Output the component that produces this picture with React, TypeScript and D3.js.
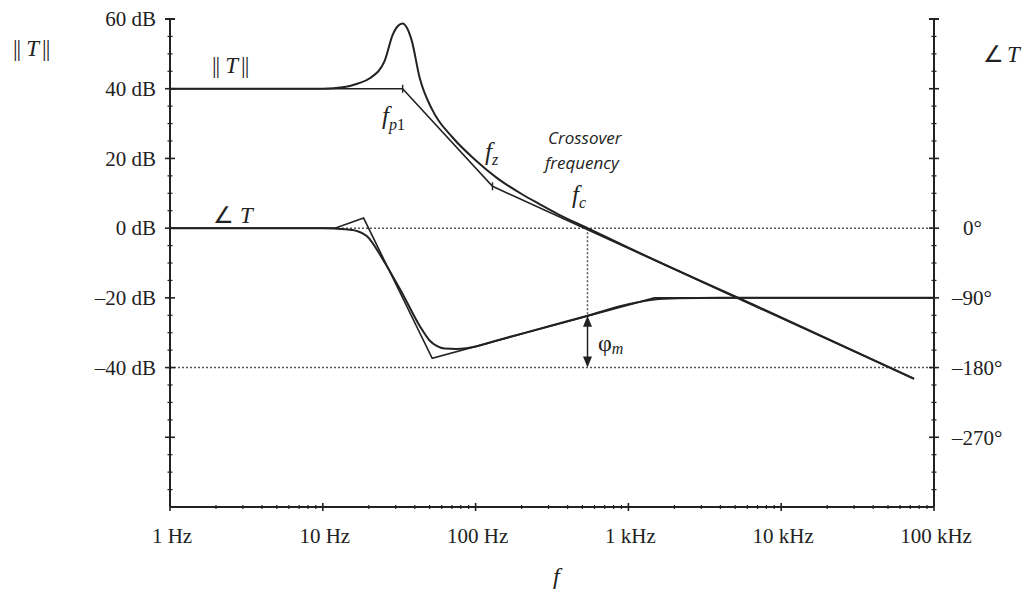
import * as d3 from 'd3';

const magFreq = [1, 10, 13.9, 17, 20.3, 25.4, 28.7, 31, 33.3, 35.5, 38.2, 43, 52.4, 70.7, 100, 137, 200, 262, 350, 540, 1000, 10000, 74000];
const magDb = [40, 40, 40.5, 41.5, 43, 48, 55.5, 58, 58.7, 57.5, 53.8, 43.2, 33.7, 26, 19.5, 14.5, 9.8, 6.9, 3.9, 0, -5.6, -25.6, -43.2];

// magnitude asymptotes: fp1, fz, end
const asymFreq = [1, 33.3, 129, 74000];
const asymDb = [40, 40, 12, -43.2];

// phase ∠T (actual curve)
const phaseFreq = [1, 10, 13.9, 16.9, 19.4, 25, 33.3, 43, 50, 55.6, 62.7, 75, 87, 143.5, 250, 540, 1015, 1480, 2150, 3930, 100000];
const phaseDeg = [0, 0, -1.3, -4, -10, -42, -85, -126, -145, -152, -155.5, -156, -155, -144, -131, -113, -98, -92, -90.6, -90, -90];

// phase asymptotes
const phAsymFreq = [1, 12, 18.5, 52, 1480, 100000];
const phAsymDeg = [0, 0, 13, -168, -90, -90];

const freqTicks = [1, 10, 100, 1000, 10000, 100000];
const freqLabels = ['1 Hz', '10 Hz', '100 Hz', '1 kHz', '10 kHz', '100 kHz'];
const dbTicks = [60, 40, 20, 0, -20, -40, -60];
const dbLabels = ['60 dB', '40 dB', '20 dB', '0 dB', '–20 dB', '–40 dB', ''];
const degTicks = [0, -90, -180, -270];
const degLabels = ['0°', '–90°', '–180°', '–270°'];

const fp1 = 33.3;
const fz = 129;
const fc = 540;
const phaseAtFc = -113;

const W = 1031;
const H = 591;
const ink = '#222';
const serif = '"Liberation Serif", "Times New Roman", serif';

function NormT({ x, y }: { x: number; y: number }) {
  // ‖ T ‖ drawn with plain bars so no odd glyph fallback is used
  return (
    <text x={x} y={y} fontSize={23} fill={ink}>
      |<tspan dx={-1}>|</tspan>
      <tspan dx={5} fontStyle="italic">T</tspan>
      <tspan dx={3}>|</tspan>
      <tspan dx={-1}>|</tspan>
    </text>
  );
}

export default function App() {
  const x = d3.scaleLog().domain([1, 1e5]).range([170, 934]);
  const yMag = d3.scaleLinear().domain([-80, 60]).range([507, 19]);
  const yPh = d3.scaleLinear().domain([-360, 270]).range([507, 19]);

  const smooth = d3.line<[number, number]>().x((d) => d[0]).y((d) => d[1]).curve(d3.curveMonotoneX);
  const straight = d3.line<[number, number]>().x((d) => d[0]).y((d) => d[1]);

  const magPath = smooth(magFreq.map((f, i) => [x(f), yMag(magDb[i])]));
  const asymPath = straight(asymFreq.map((f, i) => [x(f), yMag(asymDb[i])]));
  const phPath = smooth(phaseFreq.map((f, i) => [x(f), yPh(phaseDeg[i])]));
  const phAsymPath = straight(phAsymFreq.map((f, i) => [x(f), yPh(phAsymDeg[i])]));

  const x0 = x(1);
  const x1 = x(1e5);
  const yTop = yMag(60);
  const yBot = yMag(-80);

  const minorDb = d3.range(-80, 60, 5).filter((d) => d % 20 !== 0);
  const minorF: number[] = [];
  for (let dec = 1; dec < 1e5; dec *= 10) for (let k = 2; k < 10; k++) minorF.push(dec * k);

  const xc = x(fc);
  const pmTop = yPh(phaseAtFc);
  const pmBot = yPh(-180);

  return (
    <svg width={W} height={H} style={{ position: 'absolute', left: 0, top: 0, background: '#fff' }} fontFamily={serif}>
      {/* dotted reference lines */}
      <line x1={x0} x2={x1} y1={yMag(0)} y2={yMag(0)} stroke="#555" strokeWidth={1.5} strokeDasharray="2,2" />
      <line x1={x0} x2={x1} y1={yMag(-40)} y2={yMag(-40)} stroke="#555" strokeWidth={1.5} strokeDasharray="2,2" />
      <line x1={xc} x2={xc} y1={yMag(0)} y2={pmTop} stroke="#555" strokeWidth={1.5} strokeDasharray="2,2" />

      {/* left axis */}
      <line x1={x0} x2={x0} y1={yTop} y2={yBot} stroke={ink} strokeWidth={2} />
      <line x1={x0 - 5} x2={x0 + 5} y1={yTop} y2={yTop} stroke={ink} strokeWidth={2} />
      {dbTicks.map((d, i) => (
        <g key={'l' + d}>
          <line x1={x0 - 5} x2={x0 + 5} y1={yMag(d)} y2={yMag(d)} stroke={ink} strokeWidth={1.6} />
          <text x={156} y={yMag(d)} dy="0.35em" textAnchor="end" fontSize={21} fill={ink}>{dbLabels[i]}</text>
        </g>
      ))}
      {minorDb.map((d) => (
        <line key={'lm' + d} x1={x0 - 2.5} x2={x0 + 2.5} y1={yMag(d)} y2={yMag(d)} stroke={ink} strokeWidth={1.2} />
      ))}

      {/* right axis */}
      <line x1={x1} x2={x1} y1={yTop} y2={yBot} stroke={ink} strokeWidth={2} />
      <line x1={x1 - 5} x2={x1 + 5} y1={yTop} y2={yTop} stroke={ink} strokeWidth={2} />
      {dbTicks.map((d) => (
        <line key={'r' + d} x1={x1 - 5} x2={x1 + 5} y1={yMag(d)} y2={yMag(d)} stroke={ink} strokeWidth={1.6} />
      ))}
      {minorDb.map((d) => (
        <line key={'rm' + d} x1={x1 - 2.5} x2={x1 + 2.5} y1={yMag(d)} y2={yMag(d)} stroke={ink} strokeWidth={1.2} />
      ))}
      {degTicks.map((d, i) => (
        <text key={'rl' + d} x={d === 0 ? 963 : 952} y={yPh(d)} dy="0.35em" fontSize={21} fill={ink}>{degLabels[i]}</text>
      ))}

      {/* bottom axis */}
      <line x1={x0} x2={x1} y1={yBot} y2={yBot} stroke={ink} strokeWidth={2} />
      {freqTicks.map((f, i) => (
        <g key={'b' + f}>
          <line x1={x(f)} x2={x(f)} y1={yBot - 4} y2={yBot + 4} stroke={ink} strokeWidth={1.6} />
          <text x={x(f) + 2} y={543} textAnchor="middle" fontSize={21} fill={ink}>{freqLabels[i]}</text>
        </g>
      ))}
      {minorF.map((f) => (
        <line key={'bm' + f} x1={x(f)} x2={x(f)} y1={yBot - 2} y2={yBot + 2} stroke={ink} strokeWidth={1.2} />
      ))}

      {/* curves */}
      <path d={asymPath ?? ''} fill="none" stroke={ink} strokeWidth={1.6} />
      <path d={magPath ?? ''} fill="none" stroke={ink} strokeWidth={2} />
      <path d={phAsymPath ?? ''} fill="none" stroke={ink} strokeWidth={1.6} />
      <path d={phPath ?? ''} fill="none" stroke={ink} strokeWidth={2} />
      <line x1={x(fp1)} x2={x(fp1)} y1={yMag(40) - 4} y2={yMag(40) + 4} stroke={ink} strokeWidth={1.4} />
      <line x1={x(fz)} x2={x(fz)} y1={yMag(12) - 4} y2={yMag(12) + 4} stroke={ink} strokeWidth={1.4} />

      {/* phase margin arrow */}
      <line x1={xc} x2={xc} y1={pmTop + 6} y2={pmBot - 6} stroke={ink} strokeWidth={1.5} />
      <polygon points={`${xc},${pmTop} ${xc - 4.5},${pmTop + 11} ${xc + 4.5},${pmTop + 11}`} fill={ink} />
      <polygon points={`${xc},${pmBot} ${xc - 4.5},${pmBot - 11} ${xc + 4.5},${pmBot - 11}`} fill={ink} />

      {/* labels */}
      <NormT x={13} y={56} />
      <NormT x={212} y={73} />
      <text x={983} y={62} fontSize={23} fill={ink}>∠<tspan dx={3} fontStyle="italic">T</tspan></text>
      <text x={213} y={223} fontSize={23} fill={ink}>∠<tspan dx={6} fontStyle="italic">T</tspan></text>

      <text x={382} y={124} fontSize={25} fill={ink} fontStyle="italic">f<tspan fontSize={16} dy={6}>p</tspan><tspan fontSize={16} fontStyle="normal">1</tspan></text>
      <text x={485} y={160} fontSize={25} fill={ink} fontStyle="italic">f<tspan fontSize={16} dy={5}>z</tspan></text>
      <text x={572} y={203} fontSize={25} fill={ink} fontStyle="italic">f<tspan fontSize={16} dy={5}>c</tspan></text>
      <text fontFamily='"Open Sans", sans-serif' fontStyle="italic" fontSize={17} fill={ink}>
        <tspan x={548} y={144}>Crossover</tspan>
        <tspan x={545} y={169}>frequency</tspan>
      </text>
      <text x={598} y={351} fontSize={24} fill={ink}>φ<tspan fontSize={16} dy={3} fontStyle="italic">m</tspan></text>
      <text x={553} y={584} fontSize={24} fill={ink} fontStyle="italic">f</text>
    </svg>
  );
}
